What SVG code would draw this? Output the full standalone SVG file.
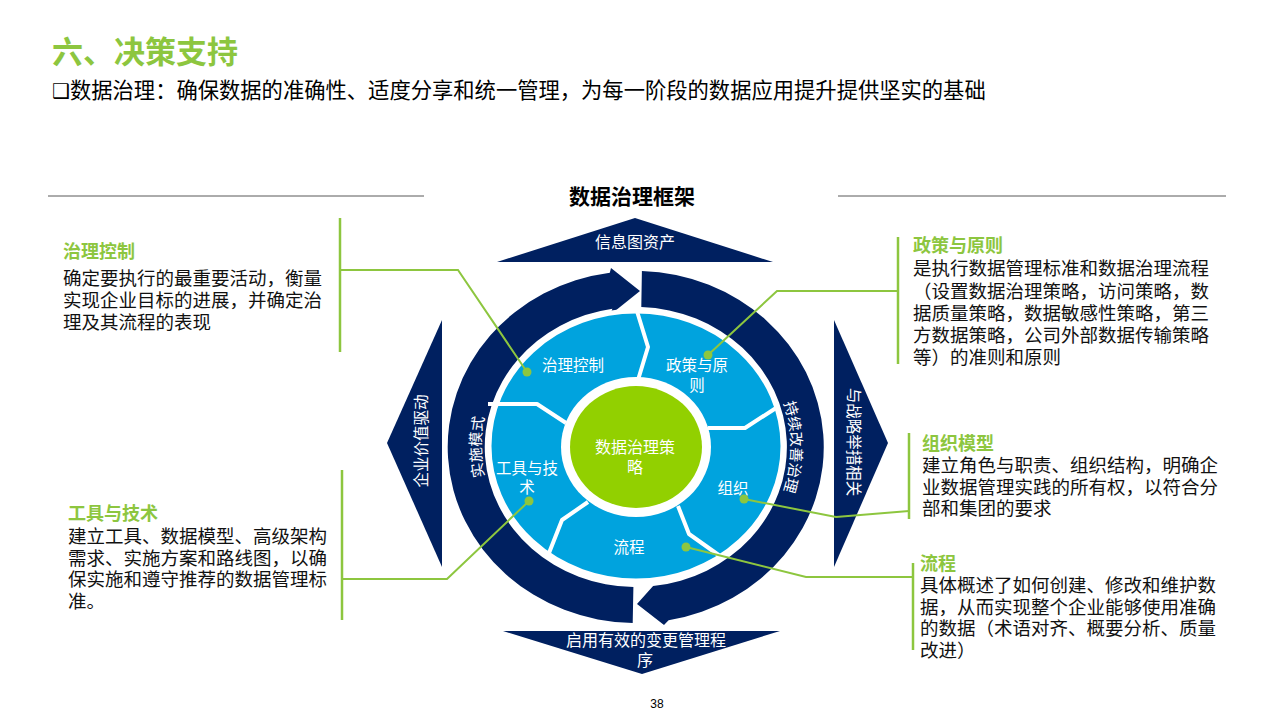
<svg xmlns="http://www.w3.org/2000/svg" xmlns:xlink="http://www.w3.org/1999/xlink" width="1280" height="720" viewBox="0 0 1280 720">
<style>
text { font-family: "Noto Sans CJK SC", "Noto Sans CJK JP", sans-serif; }
.navy { fill: #002060; }
.lbl { font-size: 15.5px; fill: #ffffff; text-anchor: middle; }
.head { font-size: 18px; font-weight: 700; fill: #8dc63f; }
.body { font-size: 18.5px; fill: #111111; }
.conn { fill: none; stroke: #8dc63f; stroke-width: 2; }
.bar { stroke: #8dc63f; stroke-width: 2.5; }
.dot { fill: #8dc63f; }
.div { fill: none; stroke: #ffffff; stroke-width: 4; stroke-linejoin: round; }
</style>
<defs>
<path id="arcL" d="M 501.8 519.5 A 155 145 0 0 1 501.8 374.5"/>
<path id="arcR" d="M 770.2 374.5 A 155 145 0 0 1 770.2 519.5"/>
</defs>
<rect width="1280" height="720" fill="#ffffff"/>

<g id="title">
<text x="52" y="63" font-size="31" font-weight="700" fill="#8dc63f">六、决策支持</text>
<text x="52" y="98" font-size="21.3" fill="#000000"><tspan font-family="DejaVu Sans, sans-serif" font-size="20">❑</tspan>数据治理：确保数据的准确性、适度分享和统一管理，为每一阶段的数据应用提升提供坚实的基础</text>
</g>

<g id="framework-header">
<line x1="48" y1="196" x2="424" y2="196" stroke="#595959" stroke-width="1"/>
<line x1="838" y1="196" x2="1226" y2="196" stroke="#595959" stroke-width="1"/>
<text x="632" y="204" font-size="21" font-weight="700" text-anchor="middle" fill="#000000">数据治理框架</text>
</g>

<g id="chevron-top">
<polygon class="navy" points="497,262 635,218 773,262"/>
<text class="lbl" x="635" y="248" style="font-size:16px">信息图资产</text>
</g>
<g id="chevron-bottom">
<polygon class="navy" points="503,631 780,631 642,674"/>
<text class="lbl" style="font-size:16px"><tspan x="646" y="646">启用有效的变更管理程</tspan><tspan x="645" y="666">序</tspan></text>
</g>
<g id="chevron-left">
<polygon class="navy" points="442,320 387,443 442,567"/>
<text class="lbl" transform="translate(420 441) rotate(-90)" dominant-baseline="central" style="font-size:15.5px">企业价值驱动</text>
</g>
<g id="chevron-right">
<polygon class="navy" points="834,320 888,443 834,567"/>
<text class="lbl" transform="translate(855 442) rotate(90)" dominant-baseline="central" style="font-size:15.5px">与战略举措相关</text>
</g>

<g id="ring-left">
<path class="navy" d="M 632.7 623 A 188 176 0 0 1 609.8 272.7 L 611 268 L 640 291 L 610 315 L 612.4 308.7 A 151 140 0 0 0 633.4 587 Z"/>
<text class="lbl" style="font-size:15px"><textPath xlink:href="#arcL" href="#arcL" startOffset="50%">实施模式</textPath></text>
</g>
<g id="ring-right">
<path class="navy" d="M 641.9 271.1 A 188 176 0 0 1 668.6 620.3 L 664 625 L 637 604 L 653.1 586.1 A 151 140 0 0 0 641.3 307.1 Z"/>
<text class="lbl" style="font-size:15px"><textPath xlink:href="#arcR" href="#arcR" startOffset="50%">持续改善治理</textPath></text>
</g>

<g id="wheel">
<ellipse cx="636" cy="446" rx="147" ry="135" fill="#00a3de" stroke="#ffffff" stroke-width="5"/>
<polyline class="div" points="636,308 648,347 638,380"/>
<polyline class="div" points="708,428 745,428 776,408"/>
<polyline class="div" points="678,506 689,534 720,556"/>
<polyline class="div" points="588,502 562,520 549,553"/>
<polyline class="div" points="566,423 537,404 488,404"/>
<ellipse cx="636" cy="447" rx="75" ry="70" fill="#ffffff"/>
</g>

<g id="node-center">
<ellipse cx="636" cy="447" rx="66" ry="61" fill="#92d000"/>
<text class="lbl" style="font-size:16px"><tspan x="635" y="453">数据治理策</tspan><tspan x="635" y="473">略</tspan></text>
</g>
<g id="node-control">
<text class="lbl" x="573" y="371">治理控制</text>
</g>
<g id="node-policy">
<text class="lbl"><tspan x="697" y="371">政策与原</tspan><tspan x="697" y="391">则</tspan></text>
</g>
<g id="node-org">
<text class="lbl" x="733" y="494">组织</text>
</g>
<g id="node-process">
<text class="lbl" x="629" y="553">流程</text>
</g>
<g id="node-tools">
<text class="lbl"><tspan x="527" y="474">工具与技</tspan><tspan x="527" y="493">术</tspan></text>
</g>

<g id="connectors">
<line class="bar" x1="340" y1="218" x2="340" y2="352"/>
<polyline class="conn" points="340,270 458,270 527,372"/>
<line class="bar" x1="342" y1="470" x2="342" y2="620"/>
<polyline class="conn" points="342,579 447,579 529,501"/>
<line class="bar" x1="898" y1="237" x2="898" y2="364"/>
<polyline class="conn" points="898,291 777,291 708,355"/>
<line class="bar" x1="909" y1="433" x2="909" y2="519"/>
<polyline class="conn" points="909,511 836,517 744,499"/>
<line class="bar" x1="913" y1="563" x2="913" y2="650"/>
<polyline class="conn" points="913,577 806,577 686,547"/>
<circle class="dot" cx="527" cy="372" r="4.5"/>
<circle class="dot" cx="529" cy="501" r="4.5"/>
<circle class="dot" cx="708" cy="355" r="4.5"/>
<circle class="dot" cx="744" cy="499" r="4.5"/>
<circle class="dot" cx="686" cy="547" r="4.5"/>
</g>

<g id="desc-control">
<text class="head" x="63" y="258">治理控制</text>
<text class="body"><tspan x="63" y="285">确定要执行的最重要活动，衡量</tspan><tspan x="63" y="307">实现企业目标的进展，并确定治</tspan><tspan x="63" y="329">理及其流程的表现</tspan></text>
</g>
<g id="desc-tools">
<text class="head" x="68" y="520">工具与技术</text>
<text class="body"><tspan x="68" y="543">建立工具、数据模型、高级架构</tspan><tspan x="68" y="565">需求、实施方案和路线图，以确</tspan><tspan x="68" y="586">保实施和遵守推荐的数据管理标</tspan><tspan x="68" y="608">准。</tspan></text>
</g>
<g id="desc-policy">
<text class="head" x="913" y="252">政策与原则</text>
<text class="body"><tspan x="913" y="275">是执行数据管理标准和数据治理流程</tspan><tspan x="913" y="298">（设置数据治理策略，访问策略，数</tspan><tspan x="913" y="320">据质量策略，数据敏感性策略，第三</tspan><tspan x="913" y="342">方数据策略，公司外部数据传输策略</tspan><tspan x="913" y="364">等）的准则和原则</tspan></text>
</g>
<g id="desc-org">
<text class="head" x="922" y="450">组织模型</text>
<text class="body"><tspan x="922" y="472">建立角色与职责、组织结构，明确企</tspan><tspan x="922" y="494">业数据管理实践的所有权，以符合分</tspan><tspan x="922" y="515">部和集团的要求</tspan></text>
</g>
<g id="desc-process">
<text class="head" x="920" y="570">流程</text>
<text class="body"><tspan x="920" y="592">具体概述了如何创建、修改和维护数</tspan><tspan x="920" y="614">据，从而实现整个企业能够使用准确</tspan><tspan x="920" y="635">的数据（术语对齐、概要分析、质量</tspan><tspan x="920" y="657">改进）</tspan></text>
</g>

<text x="657" y="708" font-size="12" text-anchor="middle" fill="#000000" style="font-family:'Liberation Sans', Arial, sans-serif">38</text>
</svg>
